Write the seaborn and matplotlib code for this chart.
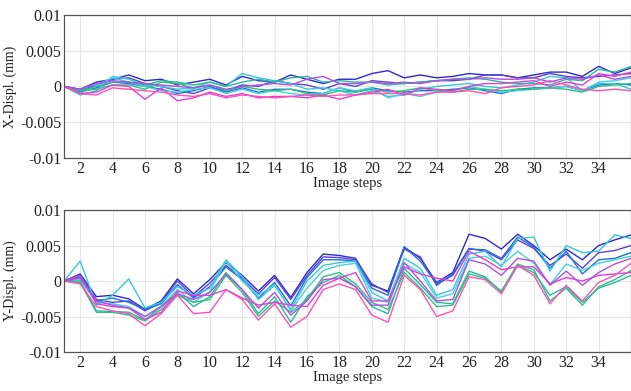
import numpy as np
import pandas as pd
import matplotlib
matplotlib.use("Agg")
import matplotlib.pyplot as plt
import seaborn as sns

steps = list(range(1, 37))
series_names = ["s1", "s2", "s3", "s4", "s5", "s6", "s7", "s8", "s9", "s10"]
colors = ["#2b2bd0", "#6040d0", "#1f6fe0", "#33c8e0", "#45d2dc",
          "#2ab8a0", "#30c080", "#e040d0", "#ff50b8", "#b050e0"]

# X displacement (x 1e-3 mm)
x_s1 = [0, -0.4, 0.6, 1.0, 1.6, 0.8, 1.0, 0.2, 0.6, 1.0, 0.2, 1.4, 0.8, 0.6, 1.6, 1.0, 0.4, 1.0, 1.0, 1.8, 2.2, 1.2, 1.6, 1.2, 1.4, 1.8, 1.6, 1.6, 1.2, 1.6, 2.0, 2.0, 1.4, 2.8, 1.8, 2.6]
x_s2 = [0, -0.6, 0.2, 1.0, 1.2, 0.4, 0.0, -0.6, -1.0, -0.2, -0.6, 0.2, 0.0, 0.8, 0.4, 0.2, -0.4, 0.4, 0.0, 0.8, 0.6, 0.4, 0.6, 0.8, 0.8, 1.0, 1.6, 1.6, 1.2, 1.2, 1.8, 1.4, 1.2, 1.4, 1.6, 1.8]
x_s3 = [0, -0.8, -0.2, 0.6, 0.4, 0.0, -0.4, -1.0, -0.6, 0.0, -0.8, -0.2, -0.8, -0.4, -0.4, -0.8, -1.0, -0.2, -0.8, -0.2, -0.6, -0.8, -0.6, -0.6, -0.4, -0.2, -0.6, -1.0, -0.4, -0.2, -0.2, 0.0, -0.6, 0.2, 0.4, 0.2]
x_s4 = [0, -1.2, -0.6, 1.4, 1.0, 0.2, 0.0, -0.4, -0.2, 0.6, 0.0, 1.8, 1.2, 0.8, 0.4, -0.4, -0.2, -0.6, -1.2, -0.6, -1.4, -1.2, -0.4, 0.0, 0.2, 0.4, 0.0, -0.2, 0.2, 0.6, 1.4, 1.2, -0.6, 0.4, 0.4, -0.4]
x_s5 = [0, -1.0, 0.2, 1.2, 0.6, 0.0, -0.6, -0.8, -0.4, -0.2, -1.0, -0.4, -1.0, -0.6, -1.0, -1.2, -1.0, -0.2, -0.6, -0.2, -1.6, -1.0, -1.4, -0.8, -0.6, 0.0, -0.4, -0.8, -0.6, -0.4, -0.2, 0.0, -0.6, 0.6, 0.8, 1.2]
x_s6 = [0, -0.6, 0.0, 0.6, 0.6, 0.2, 0.8, 0.6, 0.2, 0.6, 0.0, 0.6, 1.0, 0.6, 1.2, 1.4, 0.6, 0.8, 0.6, 0.6, 0.2, 0.4, 0.6, 0.8, 1.0, 1.2, 1.0, 0.6, 0.4, 0.4, 0.2, 1.0, 0.8, 2.4, 2.0, 2.8]
x_s7 = [0, -0.6, -0.4, 0.2, 0.2, -0.4, 0.6, 0.4, -0.2, 0.2, -0.6, 0.0, -0.4, -0.6, -0.4, -1.0, -1.2, -0.6, -0.8, -0.4, -0.8, -0.6, -0.2, -0.6, -0.8, -0.4, -0.4, -0.6, -0.4, -0.4, -0.2, -0.4, -0.8, 0.0, 0.2, 0.4]
x_s8 = [0, -1.0, -0.8, 0.2, 0.0, -1.8, -0.2, -2.0, -1.6, -0.8, -1.4, -1.0, -1.6, -1.4, -1.4, -1.6, -1.2, -1.8, -1.2, -0.8, -0.4, -1.2, -0.2, -0.4, -0.6, 0.0, 0.4, 0.4, 0.6, 0.8, 0.0, 0.6, 0.2, 1.8, 1.4, 2.0]
x_s9 = [0, -1.0, -1.2, -0.2, -0.4, -0.6, -0.8, -1.2, -1.4, -1.0, -1.6, -1.2, -1.4, -1.6, -1.4, -1.2, -1.4, -1.2, -1.2, -1.0, -1.0, -1.0, -1.2, -0.8, -0.8, -0.6, -1.0, -0.2, 0.0, 0.2, 0.8, 0.2, -0.4, -0.6, -0.4, -0.6]
x_s10 = [0, -0.4, 0.4, 0.8, 0.6, 0.4, 0.2, 0.0, -0.2, 0.2, -0.4, 0.0, 0.2, 0.4, 0.2, 1.0, 1.4, 0.4, 0.4, 0.6, 0.4, 0.6, 0.4, 0.8, 1.0, 1.0, 1.2, 1.0, 1.0, 1.2, 0.6, 1.2, 1.0, 1.6, 1.0, 1.4]

# Y displacement (x 1e-3 mm)
y_s1 = [0, 1.0, -2.2, -2.0, -2.5, -4.0, -2.8, 0.3, -1.8, 0.2, 2.6, 0.8, -1.4, 0.8, -2.3, 1.2, 3.8, 3.6, 3.2, -0.6, -1.4, 4.8, 3.2, -0.2, 1.2, 6.6, 6.0, 4.5, 6.6, 5.0, 3.0, 4.5, 3.0, 5.0, 5.8, 6.5]
y_s2 = [0, 0.8, -2.6, -3.0, -2.8, -4.2, -3.0, 0.0, -2.2, -0.3, 2.2, 0.4, -1.8, 0.5, -2.6, 0.8, 3.4, 3.3, 3.0, -0.4, -1.6, 4.5, 3.4, -0.6, 1.0, 4.6, 4.2, 3.0, 5.8, 4.6, 2.2, 3.8, 1.8, 4.0, 4.3, 5.0]
y_s3 = [0, 0.6, -2.8, -2.4, -3.0, -4.0, -3.2, -0.5, -2.4, -0.8, 2.0, 0.2, -2.4, -0.2, -3.5, 0.5, 3.0, 3.0, 2.8, -1.0, -2.0, 4.8, 2.8, -0.4, 0.8, 4.5, 4.4, 3.2, 6.2, 4.8, 1.8, 4.2, 1.0, 3.0, 3.2, 4.0]
y_s4 = [0, 2.8, -3.4, -2.0, 0.3, -3.8, -3.0, -0.8, -2.0, -1.0, 3.0, 0.6, -2.6, -0.6, -4.0, 0.0, 2.2, 2.6, 2.8, -1.6, -2.8, 3.2, 1.8, -2.0, -1.2, 3.8, 4.2, 2.0, 6.0, 6.2, 1.4, 5.0, 4.0, 4.2, 6.5, 6.0]
y_s5 = [0, 0.2, -3.0, -3.2, -3.6, -5.0, -3.5, -1.2, -3.0, -1.5, 2.8, 0.0, -2.0, -0.5, -4.2, -1.0, 1.5, 2.2, 2.5, -2.4, -3.0, 2.5, 1.2, -2.4, -1.8, 3.2, 3.5, 2.2, 4.2, 2.5, -0.5, 2.4, 1.5, 2.5, 3.0, 3.5]
y_s6 = [0, 0.0, -4.2, -4.3, -4.4, -5.5, -3.6, -1.6, -3.6, -2.2, 1.2, -1.2, -4.6, -2.2, -5.8, -2.2, -0.2, 0.8, -0.8, -3.6, -4.6, 1.8, -0.5, -3.0, -3.2, 1.4, 0.6, -1.6, 2.2, 1.2, -2.0, -0.8, -3.0, -1.0, -0.2, 0.8]
y_s7 = [0, -0.2, -4.4, -4.4, -4.8, -5.6, -4.0, -2.0, -3.0, -2.6, 0.8, -1.6, -5.0, -2.8, -4.4, -2.6, 0.6, 1.2, -0.4, -3.0, -4.0, 1.2, -1.0, -3.6, -3.4, 1.0, 0.4, -1.4, 2.4, 1.6, -2.8, -1.0, -3.4, -0.8, 0.2, 1.5]
y_s8 = [0, 0.8, -3.2, -3.6, -3.8, -5.4, -4.4, -1.4, -2.0, -2.0, -1.2, -2.4, -3.4, -3.0, -3.4, -3.6, -0.6, 0.4, 1.2, -2.8, -2.8, 2.0, 1.0, 0.4, 0.0, 4.2, 3.0, 1.6, 2.0, 2.0, -0.4, 0.5, 0.0, 0.8, 1.0, 1.2]
y_s9 = [0, -0.4, -3.6, -4.2, -4.6, -6.3, -4.6, -2.0, -4.6, -4.4, -1.2, -2.6, -5.5, -3.2, -6.5, -5.0, -1.2, -0.4, -1.2, -4.8, -5.8, 0.8, -1.2, -5.0, -4.2, 0.6, 0.2, -1.8, 2.2, 0.8, -3.2, -0.6, -2.8, -0.2, 0.8, 2.5]
y_s10 = [0, 0.4, -2.8, -3.4, -3.8, -5.0, -3.6, -1.8, -2.6, -1.6, 1.0, -1.2, -3.8, -1.6, -4.8, -2.8, 0.2, 0.4, -0.8, -3.4, -3.4, 2.6, 0.0, -2.8, -2.6, 3.0, 2.4, 0.8, 3.2, 2.8, -0.6, 1.4, -0.6, 1.2, 2.4, 3.2]

x_all = [x_s1, x_s2, x_s3, x_s4, x_s5, x_s6, x_s7, x_s8, x_s9, x_s10]
y_all = [y_s1, y_s2, y_s3, y_s4, y_s5, y_s6, y_s7, y_s8, y_s9, y_s10]

xticks = list(range(2, 35, 2))
yticks = [-0.01, -0.005, 0, 0.005, 0.01]
ytick_labels = ["-0.01", "-0.005", "0", "0.005", "0.01"]


def long_df(all_vals):
    rows = []
    for name, vals in zip(series_names, all_vals):
        for s, v in zip(steps, vals):
            rows.append({"step": s, "val": v * 1e-3, "series": name})
    return pd.DataFrame(rows)


sns.set_theme(style="whitegrid")
plt.rcParams["font.family"] = ["Liberation Serif", "DejaVu Serif"]

fig = plt.figure(figsize=(6.31, 3.91), dpi=100)
ax1 = fig.add_axes([0.1014, 0.596, 0.8986, 0.366])
ax2 = fig.add_axes([0.1014, 0.0997, 0.8986, 0.363])

for ax, data, lab in [(ax1, x_all, "X-Displ. (mm)"), (ax2, y_all, "Y-Displ. (mm)")]:
    df = long_df(data)
    sns.lineplot(data=df, x="step", y="val", hue="series", palette=colors,
                 linewidth=1.0, legend=False, ax=ax, estimator=None, sort=False)
    ax.set_xlim(1, 36)
    ax.set_ylim(-0.01, 0.01)
    ax.set_xticks(xticks)
    ax.set_yticks(yticks)
    ax.set_yticklabels(ytick_labels)
    ax.set_facecolor("white")
    ax.grid(True, color="#e6e6e6", linewidth=0.8)
    for sp in ["left", "bottom", "top", "right"]:
        ax.spines[sp].set_visible(True)
        ax.spines[sp].set_color("#555555")
        ax.spines[sp].set_linewidth(0.9)
    ax.tick_params(axis="both", labelsize=11.5, colors="#222222", direction="in",
                   length=3, pad=2)
    ax.set_xlabel("Image steps", fontsize=10.5, labelpad=0, color="#222222")
    ax.set_ylabel(lab, fontsize=10, labelpad=2, color="#222222")

fig.savefig("out.png", dpi=100, facecolor="white")
